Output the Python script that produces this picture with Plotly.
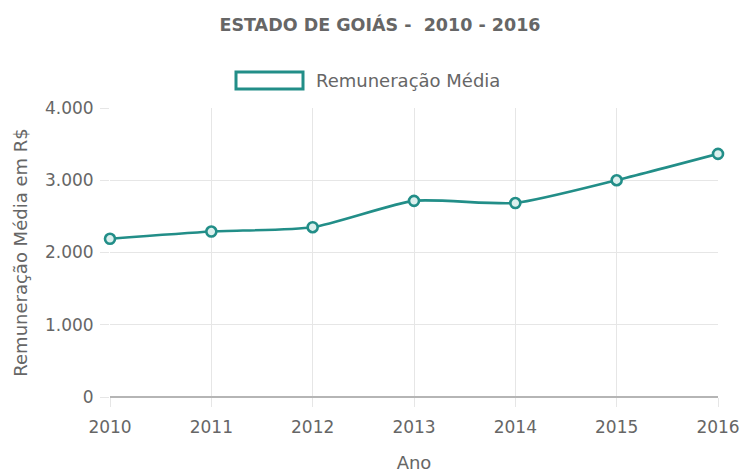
import plotly.graph_objects as go

anos = [2010, 2011, 2012, 2013, 2014, 2015, 2016]
remuneracao = [2190, 2290, 2350, 2715, 2685, 3000, 3365]
y_ticks = [0, 1000, 2000, 3000, 4000]

serie_nome = "Remuneração Média"
titulo = "ESTADO DE GOIÁS -\u00a0 2010 - 2016"
x_titulo = "Ano"
y_titulo = "Remuneração Média em R$"

teal = "rgb(34,142,136)"
grid = "#e6e6e6"
txt = "#666666"
font_family = "DejaVu Sans"

fig = go.Figure()
fig.add_trace(go.Scatter(
    x=anos, y=remuneracao, mode="lines+markers", name=serie_nome,
    line=dict(color=teal, width=2.6, shape="spline", smoothing=0.6),
    marker=dict(symbol="circle", size=10, color="rgba(220,240,238,1)",
                line=dict(color=teal, width=2.6)),
    cliponaxis=False, showlegend=False,
))

W, H = 744, 473
L, R, T, B = 110, 26, 108, 76
pw, ph = W - L - R, H - T - B

def px_x(x):
    return (x - L) / pw

def px_y(y):
    return (H - B - y) / ph

fig.update_layout(
    width=W, height=H,
    margin=dict(l=L, r=R, t=T, b=B),
    paper_bgcolor="white", plot_bgcolor="white",
    font=dict(family=font_family, size=17, color=txt),
    separators=",.",
    title=dict(text=titulo, x=380 / W, xanchor="center", xref="container",
               y=1 - 25 / H, yanchor="middle", yref="container",
               font=dict(family=font_family, size=17.5, color=txt, weight="bold")),
    xaxis=dict(
        range=[anos[0], anos[-1]], tickmode="array", tickvals=anos,
        ticktext=[str(a) for a in anos],
        showgrid=True, gridcolor=grid, gridwidth=1,
        ticks="outside", ticklen=9, tickcolor=grid, tickwidth=1,
        ticklabelstandoff=6, automargin=False,
        showline=False, zeroline=False,
        title=dict(text=x_titulo, standoff=19, font=dict(size=18, color=txt)),
        tickfont=dict(size=17, color=txt),
    ),
    yaxis=dict(
        range=[0, 4000], tickmode="array", tickvals=y_ticks,
        tickformat=",d",
        showgrid=True, gridcolor=grid, gridwidth=1,
        ticks="outside", ticklen=9, tickcolor=grid, tickwidth=1,
        ticklabelstandoff=3, automargin=False,
        showline=False, zeroline=True, zerolinecolor="#b5b5b5", zerolinewidth=1.5,
        title=dict(text=y_titulo, standoff=12, font=dict(size=18, color=txt)),
        tickfont=dict(size=17, color=txt),
    ),
    shapes=[dict(type="rect", xref="paper", yref="paper",
                 x0=px_x(236), x1=px_x(303), y0=px_y(89), y1=px_y(72),
                 fillcolor="white", line=dict(color=teal, width=3))],
    annotations=[dict(text=serie_nome, xref="paper", yref="paper",
                      x=px_x(314), y=px_y(81), xanchor="left", yanchor="middle",
                      showarrow=False, font=dict(size=18, color=txt))],
)

fig.write_html("out.html")
